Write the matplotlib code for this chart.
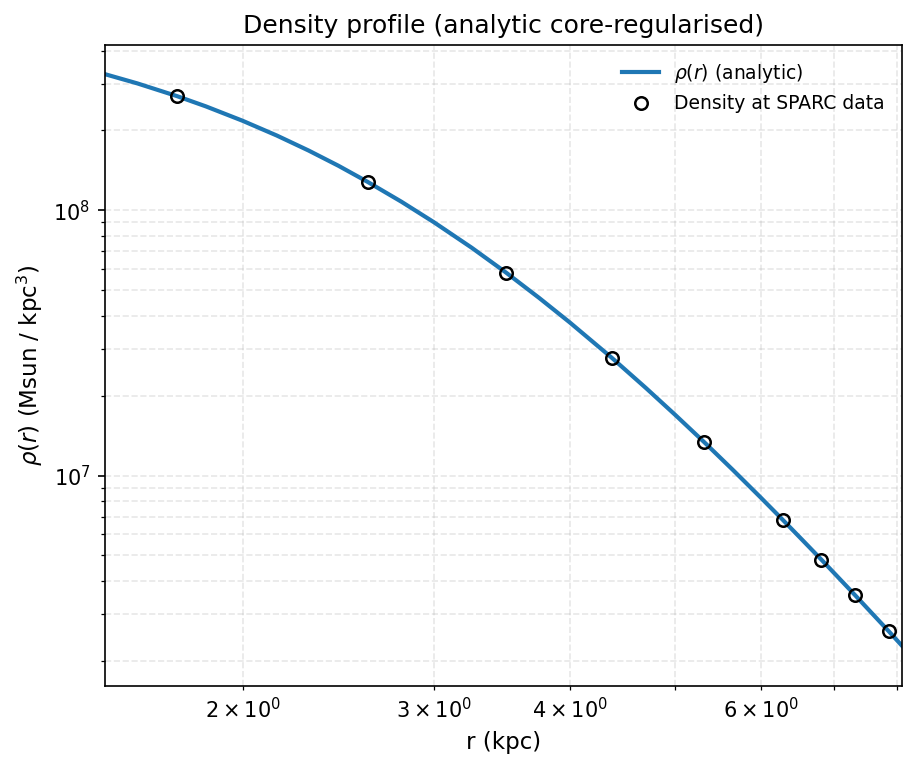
import numpy as np
import matplotlib
matplotlib.use("Agg")
import matplotlib.pyplot as plt

# curve values (r in kpc, rho in Msun/kpc^3)
r_curve = [1.494, 1.6, 1.74, 1.85, 2.0, 2.15, 2.3, 2.45, 2.607, 2.8, 3.0, 3.25, 3.495, 3.75, 4.0,
           4.374, 4.7, 5.0, 5.319, 5.65, 6.0, 6.282, 6.55, 6.818, 7.05, 7.329, 7.6, 7.866, 8.09]
rho_curve = [3.261e8, 3.010e8, 2.696e8, 2.466e8, 2.176e8, 1.915e8, 1.681e8, 1.473e8, 1.280e8, 1.078e8,
             9.02e7, 7.23e7, 5.829e7, 4.674e7, 3.783e7, 2.780e7, 2.142e7, 1.698e7, 1.338e7, 1.053e7,
             8.25e6, 6.82e6, 5.72e6, 4.827e6, 4.179e6, 3.533e6, 3.012e6, 2.590e6, 2.284e6]

# SPARC sample radii and density
r_data = [1.740, 2.607, 3.495, 4.374, 5.319, 6.282, 6.818, 7.329, 7.866]
rho_data = [2.696e8, 1.280e8, 5.829e7, 2.780e7, 1.338e7, 6.82e6, 4.827e6, 3.533e6, 2.590e6]

fig, ax = plt.subplots(figsize=(917/150, 767/150), dpi=150)
fig.subplots_adjust(left=0.1145, right=0.9836, top=0.9413, bottom=0.1056)

ax.plot(r_curve, rho_curve, color="C0", lw=2, label=r"$\rho(r)$ (analytic)")
ax.plot(r_data, rho_data, "o", mfc="none", mec="black", ms=6, mew=1.2, label="Density at SPARC data")

ax.set_xscale("log")
ax.set_yscale("log")
ax.set_xlim(1.494, 8.09)
ax.set_ylim(1.61e6, 4.2e8)
ax.set_xlabel("r (kpc)", fontsize=11)
ax.set_ylabel(r"$\rho(r)$ (Msun / kpc$^3$)", fontsize=11)
ax.set_title("Density profile (analytic core-regularised)", fontsize=12)
ax.grid(True, which="both", ls="--", alpha=0.3)
ax.legend(frameon=False, fontsize=9)

fig.savefig("out.png", dpi=150)
